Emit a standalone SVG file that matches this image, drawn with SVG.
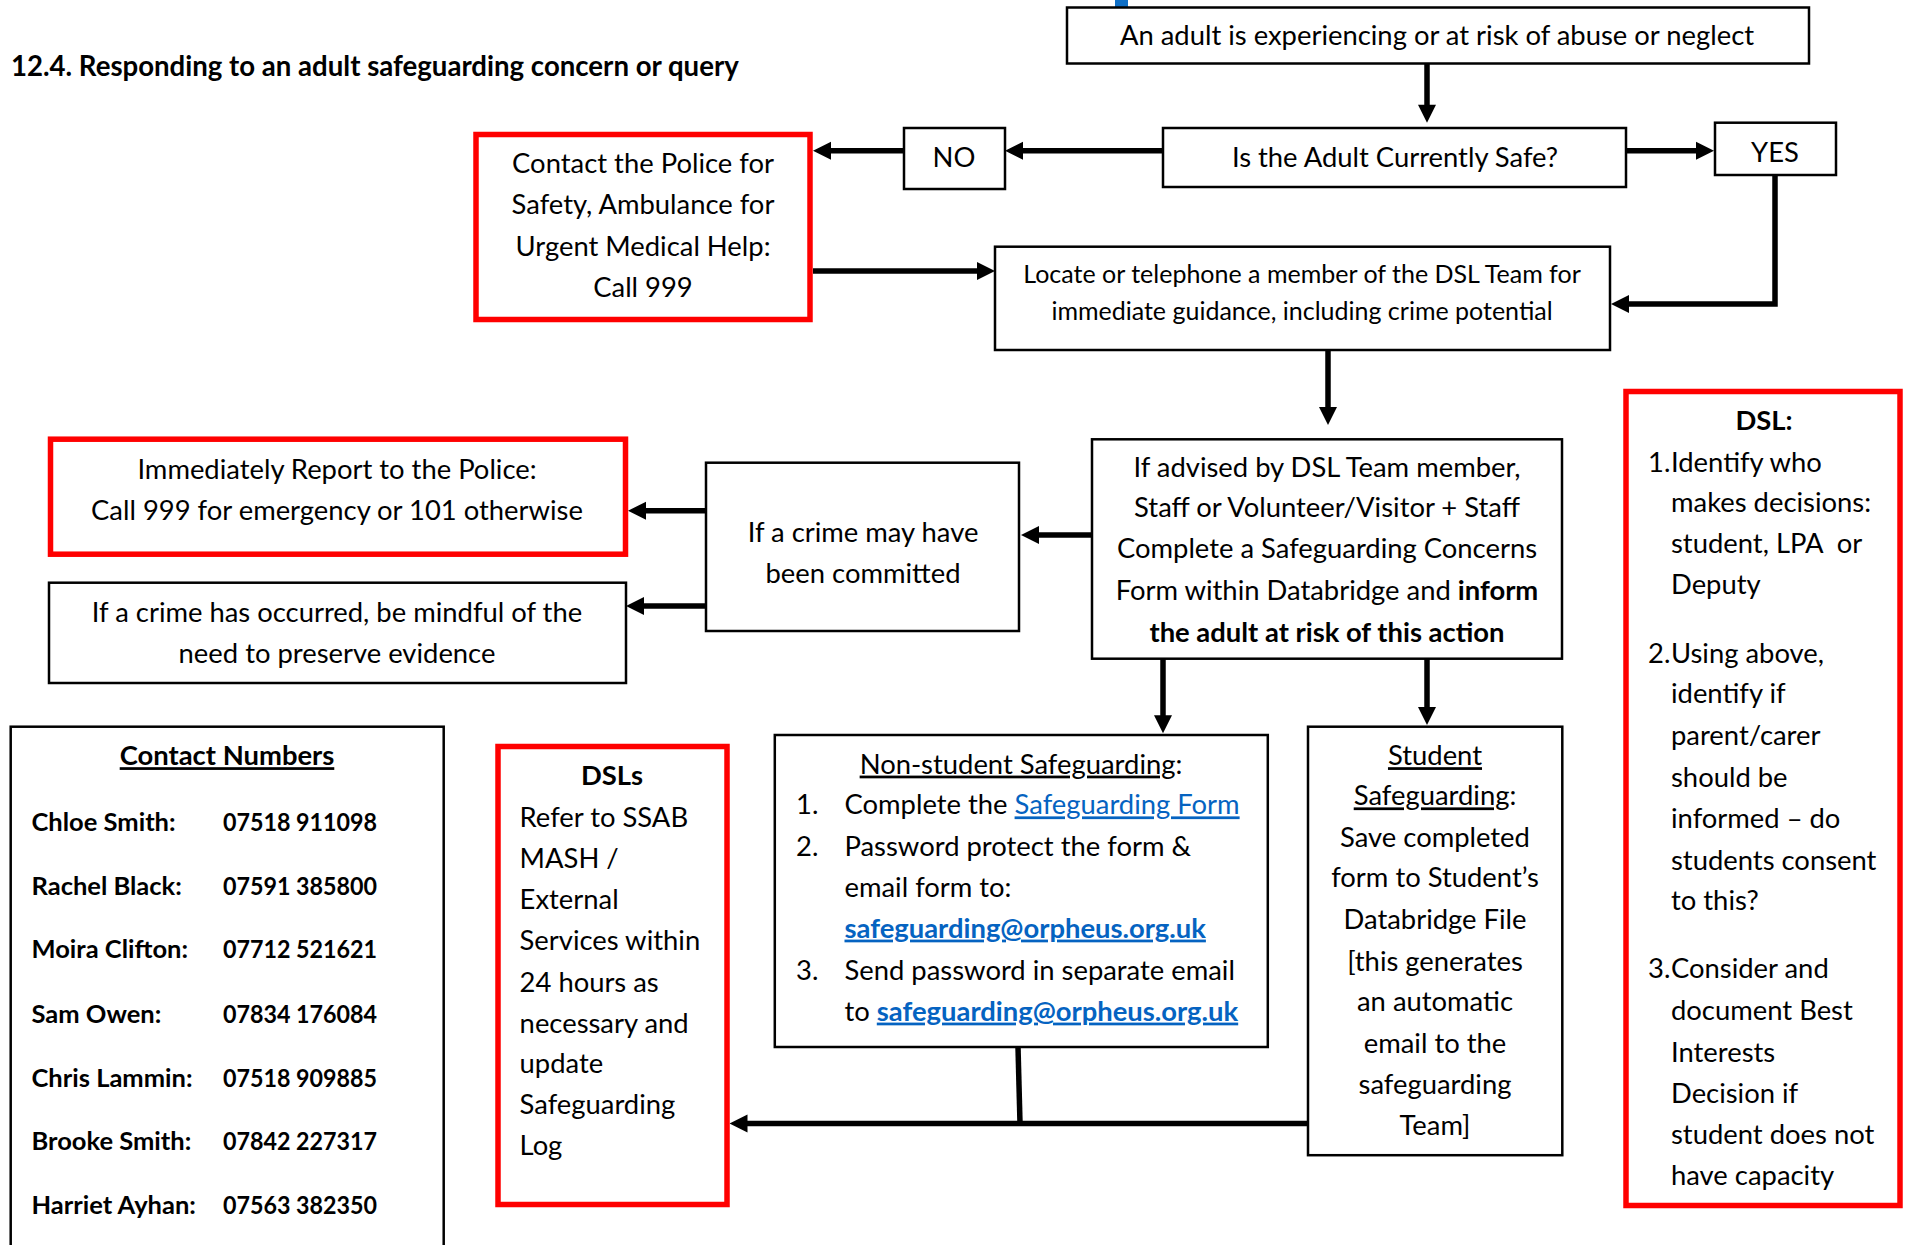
<svg xmlns="http://www.w3.org/2000/svg" width="1905" height="1245" viewBox="0 0 1905 1245">
<style>
text { font-family: Lato, 'Liberation Sans', sans-serif; font-size: 27.4px; fill: #000; }
.c { text-anchor: middle; }
.b { font-weight: bold; }
.u { text-decoration: underline; }
.lk { fill: #0563C1; text-decoration: underline; }
.sm { font-size: 25px; }
.ct { font-size: 25.5px; font-weight: bold; }
.box { fill: #fff; stroke: #000; stroke-width: 2.5; }
.red { fill: #fff; stroke: #FF0000; stroke-width: 5.5; }
.con { fill: none; stroke: #000; stroke-width: 5.5; }
</style>
<defs>
<marker id="ah" markerUnits="userSpaceOnUse" markerWidth="18" markerHeight="18" refX="8" refY="9" orient="auto" overflow="visible">
<path d="M0,0 L18,9 L0,18 z" fill="#000"/>
</marker>
</defs>
<rect width="1905" height="1245" fill="#fff"/>
<rect x="1115" y="0" width="13" height="7" fill="#0F6FC6"/>
<text id="title" class="b" x="11" y="76" style="font-size:27.6px">12.4. Responding to an adult safeguarding concern or query</text>

<g id="connectors">
<path class="con" d="M1427,63 V112.7" marker-end="url(#ah)"/>
<path class="con" d="M1163,150.7 H1015" marker-end="url(#ah)"/>
<path class="con" d="M1626,150.7 H1704" marker-end="url(#ah)"/>
<path class="con" d="M904,150.7 H823" marker-end="url(#ah)"/>
<path class="con" d="M1775,175 V304 H1621" marker-end="url(#ah)"/>
<path class="con" d="M813,271 H985" marker-end="url(#ah)"/>
<path class="con" d="M1328,350 V415" marker-end="url(#ah)"/>
<path class="con" d="M1092,535 H1031" marker-end="url(#ah)"/>
<path class="con" d="M706,510.7 H638" marker-end="url(#ah)"/>
<path class="con" d="M706,606 H636" marker-end="url(#ah)"/>
<path class="con" d="M1163,658.7 V723.3" marker-end="url(#ah)"/>
<path class="con" d="M1427,658.7 V715" marker-end="url(#ah)"/>
<path class="con" d="M1308,1123.4 H739.5" marker-end="url(#ah)"/>
<path class="con" d="M1018,1047 L1020,1123.4"/>
</g>

<g id="n-start">
<rect class="box" x="1067" y="7.5" width="742" height="56"/>
<text class="c" x="1437" y="45">An adult is experiencing or at risk of abuse or neglect</text>
</g>

<g id="n-safe">
<rect class="box" x="1163" y="128" width="463" height="59"/>
<text class="c" x="1395" y="167">Is the Adult Currently Safe?</text>
</g>

<g id="n-no">
<rect class="box" x="904" y="128" width="101" height="61"/>
<text class="c" x="954" y="167">NO</text>
</g>

<g id="n-yes">
<rect class="box" x="1715" y="122.7" width="121" height="52.3"/>
<text class="c" x="1775" y="162">YES</text>
</g>

<g id="n-police">
<rect class="red" x="476" y="134.5" width="334" height="185"/>
<text class="c" x="643" y="173">Contact the Police for</text>
<text class="c" x="643" y="214">Safety, Ambulance for</text>
<text class="c" x="643" y="256">Urgent Medical Help:</text>
<text class="c" x="643" y="297">Call 999</text>
</g>

<g id="n-dslteam">
<rect class="box" x="995" y="246.7" width="615" height="103.3"/>
<text class="c sm" x="1302" y="283">Locate or telephone a member of the DSL Team for</text>
<text class="c sm" x="1302" y="320">immediate guidance, including crime potential</text>
</g>

<g id="n-advised">
<rect class="box" x="1092" y="439.3" width="470" height="219.4"/>
<text class="c" x="1327" y="476.7">If advised by DSL Team member,</text>
<text class="c" x="1327" y="516.7">Staff or Volunteer/Visitor + Staff</text>
<text class="c" x="1327" y="558.3">Complete a Safeguarding Concerns</text>
<text class="c" x="1327" y="600">Form within Databridge and <tspan class="b">inform</tspan></text>
<text class="c b" x="1327" y="641.7">the adult at risk of this action</text>
</g>

<g id="n-crime">
<rect class="box" x="706" y="462.7" width="313" height="168.3"/>
<text class="c" x="863" y="541.7">If a crime may have</text>
<text class="c" x="863" y="583.3">been committed</text>
</g>

<g id="n-report">
<rect class="red" x="50.5" y="439.2" width="575" height="115"/>
<text class="c" x="337" y="479">Immediately Report to the Police:</text>
<text class="c" x="337" y="520">Call 999 for emergency or 101 otherwise</text>
</g>

<g id="n-evidence">
<rect class="box" x="49" y="582.7" width="577" height="100.3"/>
<text class="c" x="337" y="621.7">If a crime has occurred, be mindful of the</text>
<text class="c" x="337" y="662.7">need to preserve evidence</text>
</g>

<g id="n-contacts">
<rect class="box" x="10.7" y="726.7" width="433" height="540" stroke-width="2"/>
<text class="c b u" x="227" y="765.2">Contact Numbers</text>
<text class="ct" x="31.5" y="830.5">Chloe Smith:</text><text class="ct" x="223" y="830.5" textLength="154" lengthAdjust="spacingAndGlyphs">07518 911098</text>
<text class="ct" x="31.5" y="894.8">Rachel Black:</text><text class="ct" x="223" y="894.8" textLength="154" lengthAdjust="spacingAndGlyphs">07591 385800</text>
<text class="ct" x="31.5" y="958.4">Moira Clifton:</text><text class="ct" x="223" y="958.4" textLength="154" lengthAdjust="spacingAndGlyphs">07712 521621</text>
<text class="ct" x="31.5" y="1023">Sam Owen:</text><text class="ct" x="223" y="1023" textLength="154" lengthAdjust="spacingAndGlyphs">07834 176084</text>
<text class="ct" x="31.5" y="1086.6">Chris Lammin:</text><text class="ct" x="223" y="1086.6" textLength="154" lengthAdjust="spacingAndGlyphs">07518 909885</text>
<text class="ct" x="31.5" y="1150.2">Brooke Smith:</text><text class="ct" x="223" y="1150.2" textLength="154" lengthAdjust="spacingAndGlyphs">07842 227317</text>
<text class="ct" x="31.5" y="1213.8">Harriet Ayhan:</text><text class="ct" x="223" y="1213.8" textLength="154" lengthAdjust="spacingAndGlyphs">07563 382350</text>
</g>

<g id="n-dsls">
<rect class="red" x="498" y="746.5" width="229" height="458"/>
<text class="c b" x="612" y="785.3">DSLs</text>
<text x="519.6" y="826.5">Refer to SSAB</text>
<text x="519.6" y="868">MASH /</text>
<text x="519.6" y="909.2">External</text>
<text x="519.6" y="950.3">Services within</text>
<text x="519.6" y="991.8">24 hours as</text>
<text x="519.6" y="1033">necessary and</text>
<text x="519.6" y="1073.2">update</text>
<text x="519.6" y="1114.4">Safeguarding</text>
<text x="519.6" y="1155.2">Log</text>
</g>

<g id="n-nonstudent">
<rect class="box" x="774.8" y="735" width="493" height="312"/>
<text class="c" x="1021" y="773.6"><tspan class="u">Non-student Safeguarding</tspan>:</text>
<text x="796" y="814.4">1.</text>
<text x="844.5" y="814.4">Complete the <tspan class="lk">Safeguarding Form</tspan></text>
<text x="796" y="855.6">2.</text>
<text x="844.5" y="855.6">Password protect the form &amp;</text>
<text x="844.5" y="896.8">email form to:</text>
<text class="b lk" x="844.5" y="937.6">safeguarding@orpheus.org.uk</text>
<text x="796" y="979.5">3.</text>
<text x="844.5" y="979.5">Send password in separate email</text>
<text x="844.5" y="1020.6">to <tspan class="b lk">safeguarding@orpheus.org.uk</tspan></text>
</g>

<g id="n-student">
<rect class="box" x="1308" y="726.7" width="254.3" height="428.5"/>
<text class="c u" x="1435" y="765.2">Student</text>
<text class="c" x="1435" y="805.4"><tspan class="u">Safeguarding</tspan>:</text>
<text class="c" x="1435" y="847.2">Save completed</text>
<text class="c" x="1435" y="887.4">form to Student’s</text>
<text class="c" x="1435" y="929.2">Databridge File</text>
<text class="c" x="1435" y="971.1">[this generates</text>
<text class="c" x="1435" y="1011.3">an automatic</text>
<text class="c" x="1435" y="1053.1">email to the</text>
<text class="c" x="1435" y="1094.3">safeguarding</text>
<text class="c" x="1435" y="1135.1">Team]</text>
</g>

<g id="n-dsl">
<rect class="red" x="1626" y="391.5" width="274" height="814" stroke-width="5"/>
<text class="c b" x="1764" y="430">DSL:</text>
<text x="1648" y="471.7">1.</text><text x="1671" y="471.7">Identify who</text>
<text x="1671" y="511.7">makes decisions:</text>
<text x="1671" y="552.7" xml:space="preserve">student, LPA  or</text>
<text x="1671" y="594">Deputy</text>
<text x="1648" y="663.3">2.</text><text x="1671" y="663.3">Using above,</text>
<text x="1671" y="703.3">identify if</text>
<text x="1671" y="745.2">parent/carer</text>
<text x="1671" y="786.9">should be</text>
<text x="1671" y="827.9">informed – do</text>
<text x="1671" y="869.6">students consent</text>
<text x="1671" y="910.3">to this?</text>
<text x="1648" y="978.1">3.</text><text x="1671" y="978.1">Consider and</text>
<text x="1671" y="1019.8">document Best</text>
<text x="1671" y="1061.5">Interests</text>
<text x="1671" y="1102.5">Decision if</text>
<text x="1671" y="1144.2">student does not</text>
<text x="1671" y="1184.9">have capacity</text>
</g>
</svg>
